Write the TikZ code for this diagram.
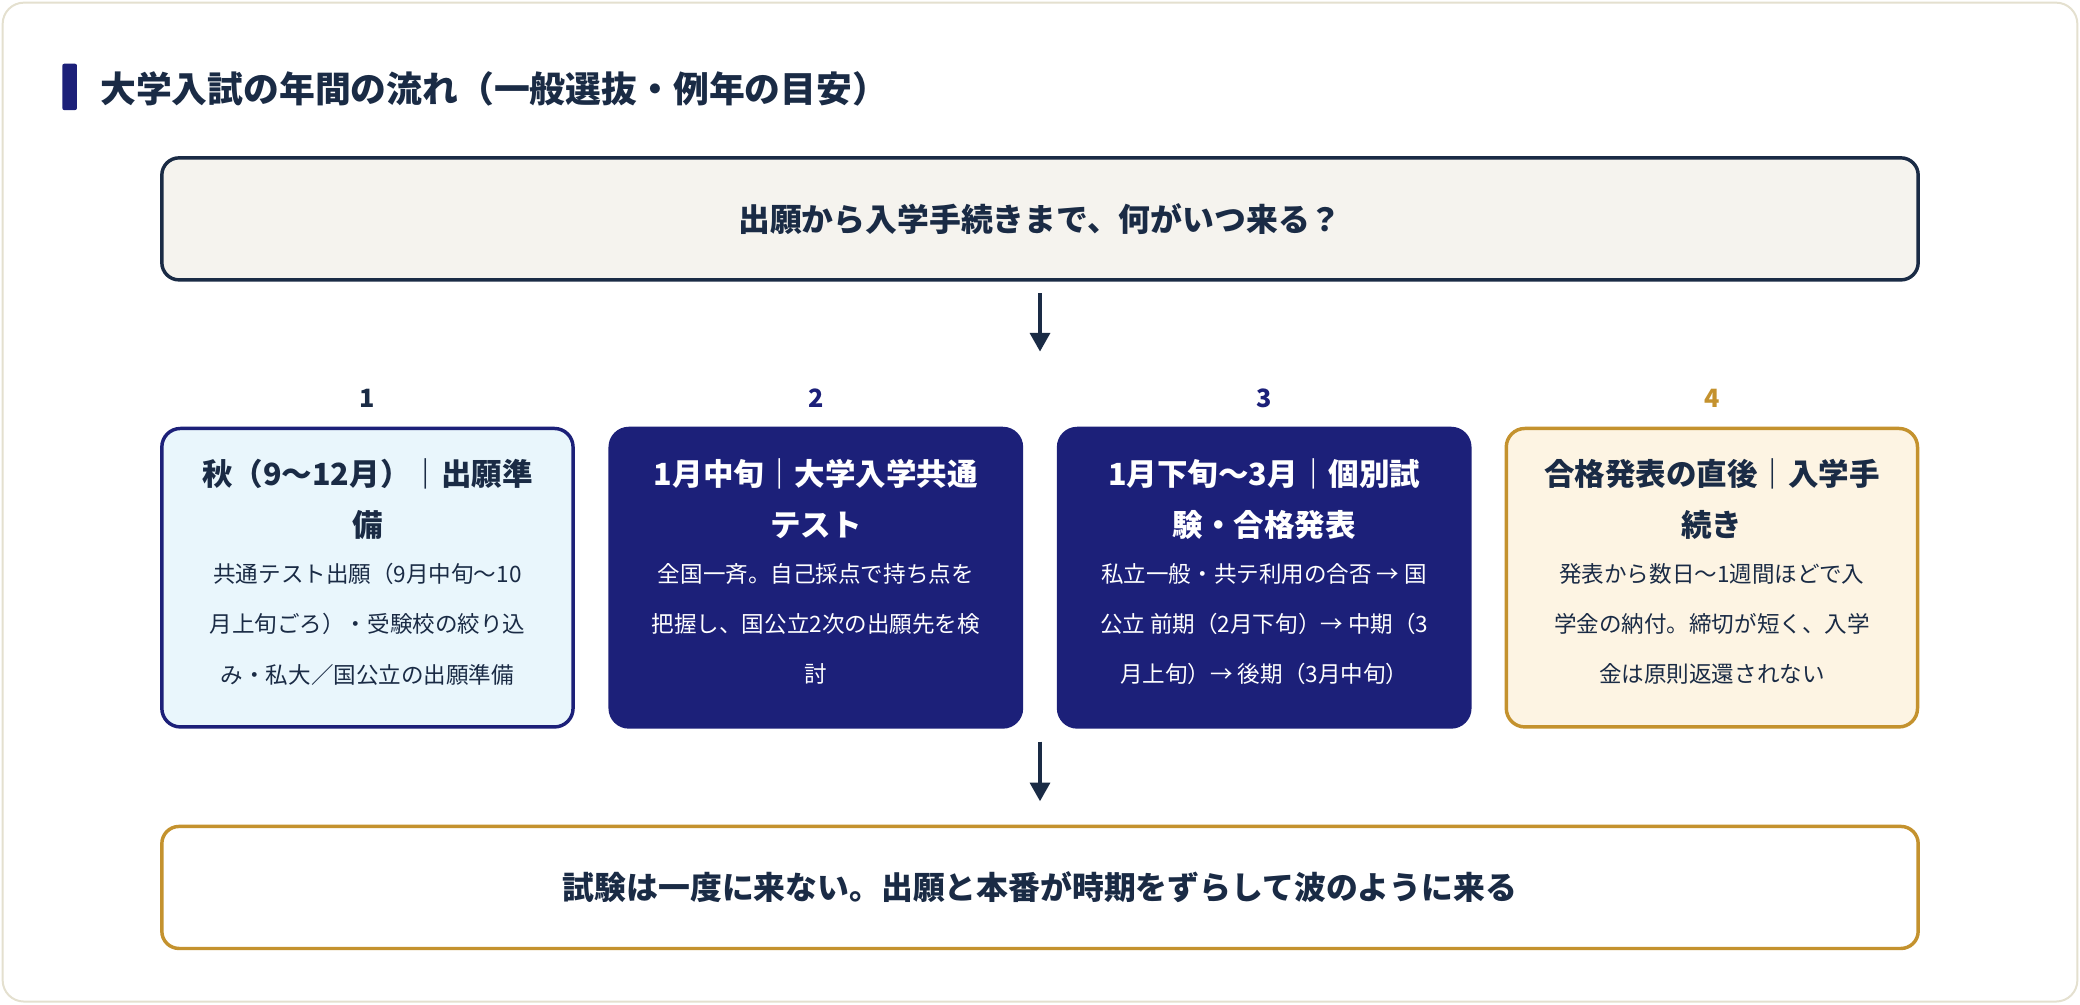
\documentclass[tikz,border=0pt]{standalone}
\usepackage{fontspec}
\setmainfont{Noto Sans CJK JP}
\newfontfamily\jpb{Noto Sans CJK JP Bold}
\usetikzlibrary{arrows.meta}
\definecolor{ink}{HTML}{1A2B45}
\definecolor{navy}{HTML}{1C2079}
\definecolor{gold}{HTML}{C4922E}
\definecolor{pale}{HTML}{E9F6FC}
\definecolor{cream}{HTML}{FDF4E3}
\definecolor{grey}{HTML}{F5F3EE}
\definecolor{rim}{HTML}{E4E0CF}
\begin{document}
\begin{tikzpicture}[x=1pt,y=-1pt,
  wide/.style={draw=#1,line width=2.6pt,rounded corners=13pt,minimum width=1324pt,minimum height=92pt,inner sep=0pt,font=\fontsize{24}{30}\selectfont\bfseries,text=ink},
  card/.style={line width=2.6pt,rounded corners=14pt,minimum width=310pt,minimum height=225pt,inner sep=0pt},
  ttl/.style={align=center,font=\fontsize{23}{39}\selectfont\bfseries},
  body/.style={align=center,font=\fontsize{17}{38}\selectfont},
  num/.style={font=\fontsize{19}{22}\selectfont\bfseries},
  arr/.style={-{Triangle[length=14pt,width=15pt]},line width=2.6pt,draw=ink}]
\useasboundingbox (0,0) rectangle (1568,757);
\draw[rim,fill=white,line width=1.5pt,rounded corners=16pt] (2,2) rectangle (1566,755);
\fill[navy,rounded corners=1.5pt] (47,48) rectangle (58,83);
\node[anchor=west,text=ink,font=\fontsize{27}{30}\selectfont\bfseries] (title) at (72,67) {大学入試の年間の流れ（一般選抜・例年の目安）};
\node[wide=ink,fill=grey] (top) at (784,165) {出願から入学手続きまで、何がいつ来る？};
\node[card,draw=navy,fill=pale] (c1) at (277,435.5) {};
\node[card,draw=navy,fill=navy] (c2) at (615,435.5) {};
\node[card,draw=navy,fill=navy] (c3) at (953,435.5) {};
\node[card,draw=gold,fill=cream] (c4) at (1290.5,435.5) {};
\node[num,text=ink] (n1) at (277,300) {1};
\node[num,text=navy] (n2) at (615,300) {2};
\node[num,text=navy] (n3) at (953,300) {3};
\node[num,text=gold] (n4) at (1290.5,300) {4};
\node[ttl,text=ink,anchor=north] (t1) at (277,342) {秋（9〜12月）｜出願準\\備};
\node[body,text=ink,anchor=north] (b1) at (277,421) {共通テスト出願（9月中旬〜10\\月上旬ごろ）・受験校の絞り込\\み・私大／国公立の出願準備};
\node[ttl,text=white,anchor=north] (t2) at (615,342) {1月中旬｜大学入学共通\\テスト};
\node[body,text=white,anchor=north] (b2) at (615,421) {全国一斉。自己採点で持ち点を\\把握し、国公立2次の出願先を検\\討};
\node[ttl,text=white,anchor=north] (t3) at (953,342) {1月下旬〜3月｜個別試\\験・合格発表};
\node[body,text=white,anchor=north] (b3) at (953,421) {私立一般・共テ利用の合否 → 国\\公立 前期（2月下旬）→ 中期（3\\月上旬）→ 後期（3月中旬）};
\node[ttl,text=ink,anchor=north] (t4) at (1290.5,342) {合格発表の直後｜入学手\\続き};
\node[body,text=ink,anchor=north] (b4) at (1290.5,421) {発表から数日〜1週間ほどで入\\学金の納付。締切が短く、入学\\金は原則返還されない};
\node[wide=gold,fill=white] (bot) at (784,669) {試験は一度に来ない。出願と本番が時期をずらして波のように来る};
\coordinate (a1s) at (784,221); \coordinate (a1e) at (784,265);
\coordinate (a2s) at (784,559); \coordinate (a2e) at (784,604);
\draw[arr] (a1s) -- (a1e);
\draw[arr] (a2s) -- (a2e);
\end{tikzpicture}
\end{document}
